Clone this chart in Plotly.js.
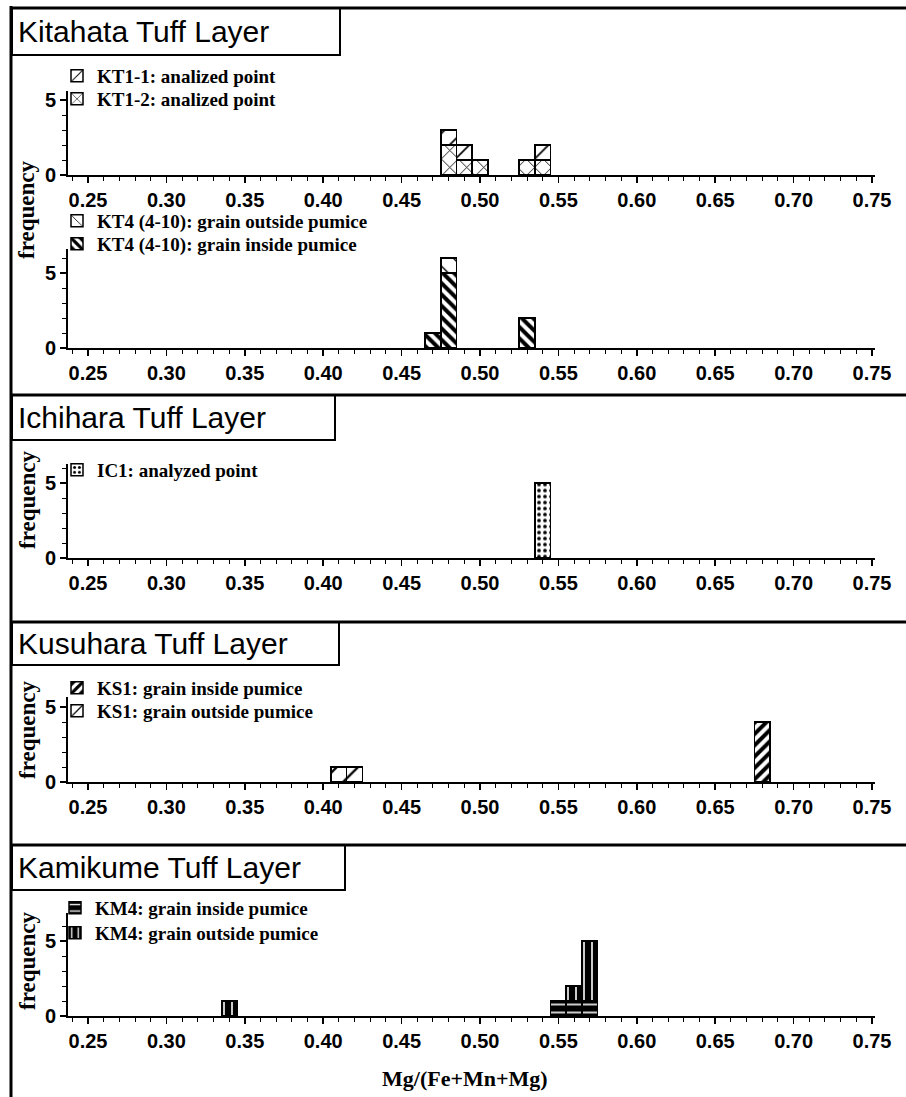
<!DOCTYPE html>
<html><head><meta charset="utf-8">
<script src="https://cdn.plot.ly/plotly-3.0.1.min.js"></script>
<style>html,body{margin:0;padding:0;background:#fff}#chart{width:906px;height:1097px}</style>
</head><body><div id="chart"></div>
<script>
// ---- data (bin centres of Mg/(Fe+Mn+Mg), counts) ----
const binsKT1 = [0.48, 0.49, 0.50, 0.53, 0.54];
const kt1_1   = [1, 1, 0, 0, 1];
const kt1_2   = [2, 1, 1, 1, 1];
const binsKT4 = [0.47, 0.48, 0.53];
const kt4Out  = [0, 1, 0];
const kt4In   = [1, 5, 2];
const binsIC1 = [0.54];
const ic1     = [5];
const binsKS1 = [0.41, 0.42, 0.68];
const ks1In   = [0, 0, 4];
const ks1Out  = [1, 1, 0];
const binsKM4 = [0.34, 0.55, 0.56, 0.57];
const km4In   = [0, 1, 1, 1];
const km4Out  = [1, 0, 1, 4];
const xTickVals = [0.25,0.30,0.35,0.40,0.45,0.50,0.55,0.60,0.65,0.70,0.75];
const xTickText = ["0.25","0.30","0.35","0.40","0.45","0.50","0.55","0.60","0.65","0.70","0.75"];
const yTickVals = [0, 5];
const yTickText = ["0", "5"];
const panelTitles = ["Kitahata Tuff Layer","Ichihara Tuff Layer","Kusuhara Tuff Layer","Kamikume Tuff Layer"];

const W = 906, H = 1097;
const px = v => v / W;
const py = v => 1 - v / H;
const BW = 0.01;

function bar(x, y, name, n, pat, legendName) {
  return {
    type: 'bar', x: x, y: y, width: BW, name: name,
    xaxis: 'x' + (n === 1 ? '' : n), yaxis: 'y' + (n === 1 ? '' : n),
    legend: legendName,
    marker: { color: pat.bg, line: { color: '#000', width: 1.5 },
      pattern: { shape: pat.shape, fgcolor: pat.fg, bgcolor: pat.bg, size: pat.size, solidity: pat.sol, fillmode: 'replace' } },
    showlegend: true, hoverinfo: 'skip'
  };
}
const P = {
  kt11: {shape: '/', fg: '#000', bg: '#fff', size: 14, sol: 0.12},
  kt12: {shape: 'x', fg: '#000', bg: '#fff', size: 12, sol: 0.14},
  kt4o: {shape: '\\', fg: '#000', bg: '#fff', size: 14, sol: 0.1},
  kt4i: {shape: '\\', fg: '#000', bg: '#fff', size: 8, sol: 0.5},
  ic1:  {shape: '.', fg: '#000', bg: '#fff', size: 6, sol: 0.3},
  ks1i: {shape: '/', fg: '#000', bg: '#fff', size: 8, sol: 0.5},
  ks1o: {shape: '/', fg: '#000', bg: '#fff', size: 15, sol: 0.15},
  km4i: {shape: '-', fg: '#fff', bg: '#000', size: 8, sol: 0.2},
  km4o: {shape: '|', fg: '#fff', bg: '#000', size: 8, sol: 0.2}
};

const data = [
  bar(binsKT1, kt1_2, '<b>KT1-2: analized point</b>', 1, P.kt12, 'legend2'),
  bar(binsKT1, kt1_1, '<b>KT1-1: analized point</b>', 1, P.kt11, 'legend'),
  bar(binsKT4, kt4In, '<b>KT4 (4-10): grain inside pumice</b>', 2, P.kt4i, 'legend4'),
  bar(binsKT4, kt4Out, '<b>KT4 (4-10): grain outside pumice</b>', 2, P.kt4o, 'legend3'),
  bar(binsIC1, ic1, '<b>IC1: analyzed point</b>', 3, P.ic1, 'legend5'),
  bar(binsKS1, ks1In, '<b>KS1: grain inside pumice</b>', 4, P.ks1i, 'legend6'),
  bar(binsKS1, ks1Out, '<b>KS1: grain outside pumice</b>', 4, P.ks1o, 'legend7'),
  bar(binsKM4, km4In, '<b>KM4: grain inside pumice</b>', 5, P.km4i, 'legend8'),
  bar(binsKM4, km4Out, '<b>KM4: grain outside pumice</b>', 5, P.km4o, 'legend9')
];

// panel geometry in pixels: zero line and y max
const panels = [
  {zero: 175, ymax: 5.6},
  {zero: 348, ymax: 6.6},
  {zero: 558, ymax: 6.3},
  {zero: 782, ymax: 5.7},
  {zero: 1016, ymax: 6.9}
];
const unit = 15;
const xr = [0.25 - 20/1568, 0.75 + 3/1568];
const tickFont = {family: 'Liberation Sans, Arial, sans-serif', size: 20, color: '#000'};
const bold = a => a.map(t => '<b>' + t + '</b>');

const layout = {
  width: W, height: H, margin: {l: 0, r: 0, t: 0, b: 0},
  paper_bgcolor: '#fff', plot_bgcolor: 'rgba(0,0,0,0)',
  barmode: 'stack', bargap: 0, showlegend: true,
  font: {family: 'Liberation Serif, Times New Roman, serif', color: '#000'},
  shapes: [], annotations: []
};

panels.forEach((p, i) => {
  const n = i + 1, s = n === 1 ? '' : n;
  layout['xaxis' + s] = {
    domain: [px(68), px(875)], range: xr, anchor: 'y' + s,
    showline: true, linewidth: 2, linecolor: '#000', zeroline: false, showgrid: false,
    ticks: 'outside', ticklen: 6, tickwidth: 1.5, tickcolor: '#000',
    tickmode: 'array', tickvals: xTickVals, ticktext: bold(xTickText), tickfont: tickFont,
    minor: {dtick: 0.01, tick0: 0.25, ticks: 'outside', ticklen: 4, tickwidth: 1, tickcolor: '#000'}
  };
  layout['yaxis' + s] = {
    domain: [py(p.zero), py(p.zero - unit * p.ymax)], range: [0, p.ymax], anchor: 'x' + s,
    showline: true, linewidth: 2, linecolor: '#000', zeroline: false, showgrid: false,
    ticks: 'outside', ticklen: 6, tickwidth: 1.5, tickcolor: '#000',
    tickmode: 'array', tickvals: yTickVals, ticktext: bold(yTickText), tickfont: tickFont,
    minor: {dtick: 1, tick0: 0, ticks: 'outside', ticklen: 4, tickwidth: 1, tickcolor: '#000'}
  };
});

// legends, one per item, positioned in pixels (left x, centre y)
const legPos = [
  ['legend', 57, 76], ['legend2', 57, 99],
  ['legend3', 57, 221], ['legend4', 57, 244],
  ['legend5', 57, 470],
  ['legend6', 57, 688], ['legend7', 57, 711],
  ['legend8', 55, 908], ['legend9', 55, 933]
];
legPos.forEach(([k, x, y]) => {
  layout[k] = {x: px(x), y: py(y), xanchor: 'left', yanchor: 'middle', bgcolor: 'rgba(0,0,0,0)',
    borderwidth: 0, font: {family: 'Liberation Serif, Times New Roman, serif', size: 19, color: '#000'},
    itemclick: false, itemdoubleclick: false};
});

// frame, separators and title boxes
const line = {color: '#000', width: 3};
layout.shapes.push({type: 'line', xref: 'paper', yref: 'paper', x0: px(11), x1: px(11), y0: py(6), y1: 0, line: line});
layout.shapes.push({type: 'line', xref: 'paper', yref: 'paper', x0: px(11), x1: px(906), y0: py(8), y1: py(8), line: line});
[395, 622, 845].forEach(y => layout.shapes.push({type: 'line', xref: 'paper', yref: 'paper', x0: px(11), x1: px(906), y0: py(y), y1: py(y), line: line}));
const boxes = [[8, 55, 340], [395, 440, 335], [622, 665, 339], [845, 890, 345]];
boxes.forEach(([t, b, r], i) => {
  layout.shapes.push({type: 'rect', xref: 'paper', yref: 'paper', x0: px(12), x1: px(r), y0: py(b), y1: py(t),
    line: {color: '#000', width: 2}, fillcolor: '#fff', layer: 'below'});
  layout.annotations.push({xref: 'paper', yref: 'paper', x: px(16), y: py((t + b) / 2), xanchor: 'left', yanchor: 'middle',
    text: panelTitles[i], showarrow: false, font: {family: 'Liberation Sans, Arial, sans-serif', size: 30, color: '#000'}});
});
// y titles
[210, 500, 730, 961].forEach(y => layout.annotations.push({xref: 'paper', yref: 'paper', x: px(27), y: py(y),
  xanchor: 'center', yanchor: 'middle', textangle: -90, text: '<b>frequency</b>', showarrow: false,
  font: {family: 'Liberation Serif, Times New Roman, serif', size: 23, color: '#000'}}));
layout.annotations.push({xref: 'paper', yref: 'paper', x: px(465), y: py(1078), xanchor: 'center', yanchor: 'middle',
  text: '<b>Mg/(Fe+Mn+Mg)</b>', showarrow: false, font: {family: 'Liberation Serif, Times New Roman, serif', size: 22, color: '#000'}});

Plotly.newPlot('chart', data, layout, {displayModeBar: false, staticPlot: true});
</script></body></html>
